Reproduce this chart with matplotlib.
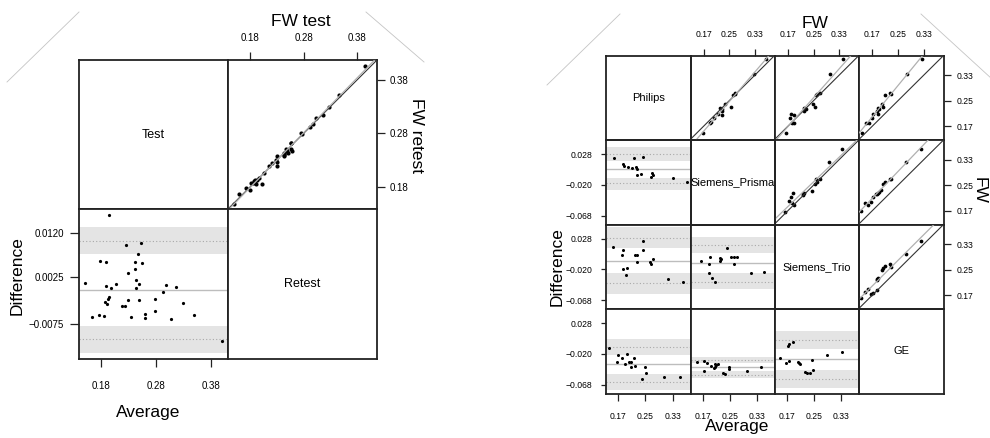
import numpy as np
import matplotlib
matplotlib.use('Agg')
import matplotlib.pyplot as plt
from matplotlib.lines import Line2D

plt.rcParams['font.family'] = ['Liberation Sans', 'DejaVu Sans']

W, H = 990, 438

# ---- left: test / retest (average and difference, diff = test - retest)
tr_avg = [0.1946, 0.1498, 0.2250, 0.2527, 0.2467, 0.1770, 0.1885, 0.2407, 0.2535, 0.2413,
          0.2285, 0.2431, 0.2480, 0.2437, 0.1885, 0.1970, 0.2062, 0.1935, 0.1916, 0.1873,
          0.1898, 0.2291, 0.2491, 0.2176, 0.2236, 0.2782, 0.2782, 0.2916, 0.2976, 0.3153,
          0.3285, 0.1636, 0.1764, 0.1855, 0.2345, 0.2589, 0.2589, 0.3062, 0.3491, 0.3995]
tr_diff = [0.0159, 0.0013, 0.0095, 0.0099, 0.0075, 0.0060, 0.0058, 0.0059, 0.0057, 0.0044,
           0.0035, 0.0020, 0.0010, 0.0003, 0.0007, 0.0002, 0.0012, -0.0016, -0.0021, -0.0027,
           -0.0031, -0.0023, -0.0024, -0.0036, -0.0036, -0.0021, -0.0046, -0.0006, 0.0008, 0.0004,
           -0.0030, -0.0059, -0.0056, -0.0058, -0.0060, -0.0054, -0.0061, -0.0064, -0.0056, -0.0111]
# mean, limits of agreement, lower band, upper band
tr_stats = [-0.0001, (-0.0107, 0.0104), (-0.0136, -0.0078), (0.0076, 0.0134)]
tr_labels = ['Test', 'Retest']
tr_ticks = [0.18, 0.28, 0.38]
tr_tick_labels = ['0.18', '0.28', '0.38']
tr_dticks = [0.0120, 0.0025, -0.0075]
tr_dtick_labels = ['0.0120', '0.0025', '\u22120.0075']

# ---- right: four scanners
scanners = ['Philips', 'Siemens_Prisma', 'Siemens_Trio', 'GE']

pp_avg = [0.1583, 0.2171, 0.2418, 0.1848, 0.1868, 0.1986, 0.2112, 0.2221, 0.2260, 0.2242,
          0.2368, 0.2654, 0.2683, 0.2712, 0.3300, 0.3721]
pp_diff = [0.0220, 0.0215, 0.0240, 0.0122, 0.0096, 0.0075, 0.0060, 0.0085, 0.0044, -0.0049,
           -0.0024, -0.0071, -0.0018, -0.0044, -0.0086, -0.0153]
pp_stats = [0.0054, (-0.0173, 0.0284), (-0.0282, -0.0091), (0.0173, 0.0387)]

pt_avg = [0.1554, 0.1848, 0.1818, 0.2427, 0.2436, 0.2183, 0.2241, 0.2241, 0.2633, 0.2654,
          0.2730, 0.1848, 0.1965, 0.1936, 0.3171, 0.3604]
pt_diff = [0.0155, 0.0099, 0.0021, 0.0239, 0.0108, 0.0021, 0.0026, -0.0078, -0.0088, -0.0110,
           -0.0041, -0.0197, -0.0181, -0.0290, -0.0347, -0.0394]
pt_stats = [-0.0063, (-0.0414, 0.0295), (-0.0581, -0.0259), (0.0130, 0.0457)]

st_avg = [0.1642, 0.1889, 0.1877, 0.2398, 0.2192, 0.2230, 0.2192, 0.2536, 0.2604, 0.2692,
          0.2624, 0.1868, 0.1956, 0.2054, 0.3112, 0.3506]
st_diff = [-0.0063, -0.0001, -0.0119, 0.0135, -0.0026, -0.0032, -0.0063, -0.0001, -0.0010, -0.0001,
           -0.0115, -0.0259, -0.0332, -0.0394, -0.0249, -0.0239]
st_stats = [-0.0103, (-0.0389, 0.0177), (-0.0508, -0.0259), (0.0052, 0.0301)]

pg_avg = [0.1427, 0.1654, 0.1701, 0.1818, 0.1965, 0.1906, 0.2024, 0.2074, 0.2171, 0.2074,
          0.2192, 0.2495, 0.2507, 0.2389, 0.3054, 0.3515]
pg_diff = [-0.0111, -0.0319, -0.0215, -0.0267, -0.0204, -0.0355, -0.0329, -0.0329, -0.0257, -0.0402,
           -0.0386, -0.0407, -0.0490, -0.0589, -0.0562, -0.0562]
pg_stats = [-0.0360, (-0.0630, -0.0086), (-0.0760, -0.0511), (-0.0215, 0.0034)]

sg_avg = [0.1515, 0.1721, 0.1818, 0.1927, 0.1712, 0.2036, 0.2065, 0.2154, 0.2095, 0.2024,
          0.2280, 0.2339, 0.2477, 0.2465, 0.2995, 0.3418]
sg_diff = [-0.0324, -0.0313, -0.0335, -0.0386, -0.0459, -0.0350, -0.0402, -0.0360, -0.0375, -0.0414,
           -0.0490, -0.0511, -0.0407, -0.0438, -0.0469, -0.0407]
sg_stats = [-0.0407, (-0.0522, -0.0293), (-0.0573, -0.0459), (-0.0344, -0.0242)]

tg_avg = [0.1486, 0.1645, 0.1733, 0.1703, 0.1751, 0.1859, 0.2015, 0.2065, 0.2030, 0.2427,
          0.2233, 0.2292, 0.2359, 0.2468, 0.2868, 0.3309]
tg_diff = [-0.0257, -0.0335, -0.0309, -0.0071, -0.0049, -0.0009, -0.0329, -0.0350, -0.0340, -0.0293,
           -0.0484, -0.0490, -0.0500, -0.0444, -0.0215, -0.0169]
tg_stats = [-0.0282, (-0.0589, 0.0018), (-0.0733, -0.0449), (-0.0122, 0.0158)]

fw_ticks = [0.17, 0.25, 0.33]
fw_tick_labels = ['0.17', '0.25', '0.33']
d_ticks = [0.028, -0.020, -0.068]
d_tick_labels = ['0.028', '\u22120.020', '\u22120.068']

# (row, col) of the Bland-Altman panel -> data; scatter sits at (col, row)
pairs = {(1, 0): (pp_avg, pp_diff, pp_stats),
         (2, 0): (pt_avg, pt_diff, pt_stats),
         (2, 1): (st_avg, st_diff, st_stats),
         (3, 0): (pg_avg, pg_diff, pg_stats),
         (3, 1): (sg_avg, sg_diff, sg_stats),
         (3, 2): (tg_avg, tg_diff, tg_stats)}

FRAME = '#222222'
BAND = '#e4e4e4'


def px_axes(fig, x0, y0, x1, y1):
    ax = fig.add_axes([x0 / W, 1 - y1 / H, (x1 - x0) / W, (y1 - y0) / H])
    for s in ax.spines.values():
        s.set_color(FRAME)
        s.set_linewidth(1.3)
    ax.set_xticks([])
    ax.set_yticks([])
    return ax


def draw_ba(ax, avg, diff, stats, xlim, ylim, ms):
    mean, loa, lo_band, hi_band = stats
    ax.axhspan(lo_band[0], lo_band[1], color=BAND, lw=0, zorder=0)
    ax.axhspan(hi_band[0], hi_band[1], color=BAND, lw=0, zorder=0)
    for v in loa:
        ax.axhline(v, color='#a8a8a8', lw=0.8, ls=(0, (1, 2)), zorder=1)
    ax.axhline(mean, color='#bdbdbd', lw=1.0, zorder=1)
    ax.plot(avg, diff, 'o', color='black', ms=ms, mew=0, zorder=3)
    ax.set_xlim(*xlim)
    ax.set_ylim(*ylim)


def draw_scatter(ax, avg, diff, xlim, ylim, ms):
    avg = np.array(avg)
    diff = np.array(diff)
    x = avg + diff / 2
    y = avg - diff / 2
    ax.plot(x, y, 'o', color='black', ms=ms, mew=0, zorder=2)
    lim = np.array([min(xlim[0], ylim[0]), max(xlim[1], ylim[1])])
    ax.plot(lim, lim, color='#333333', lw=0.8, zorder=3)
    k, b = np.polyfit(x, y, 1)
    ax.plot(lim, k * lim + b, color='#b0b0b0', lw=0.9, zorder=4)
    ax.set_xlim(*xlim)
    ax.set_ylim(*ylim)


fig = plt.figure(figsize=(W / 100, H / 100), dpi=100)

# ------------------------------------------------------------ left matrix
lx = [79, 227.7, 376.7]
ly = [60.3, 209.3, 358.7]
sc_lim = (0.1388, 0.4163)

ax = px_axes(fig, lx[0], ly[0], lx[1], ly[1])
ax.text(0.5, 0.5, tr_labels[0], ha='center', va='center', fontsize=9, transform=ax.transAxes)

ax = px_axes(fig, lx[1], ly[0], lx[2], ly[1])
draw_scatter(ax, tr_avg, tr_diff, sc_lim, sc_lim, 3.0)
ax.xaxis.set_ticks_position('top')
ax.yaxis.set_ticks_position('right')
ax.set_xticks(tr_ticks)
ax.set_xticklabels(tr_tick_labels)
ax.set_yticks(tr_ticks)
ax.set_yticklabels(tr_tick_labels)
ax.tick_params(axis='x', direction='out', length=6, width=0.9, color=FRAME, labelsize=7, pad=6.5)
ax.tick_params(axis='y', direction='out', length=6, width=0.9, color=FRAME, labelsize=7, pad=3.6)

ax = px_axes(fig, lx[0], ly[1], lx[1], ly[2])
draw_ba(ax, tr_avg, tr_diff, tr_stats, (0.1395, 0.41), (-0.0149, 0.0171), 2.3)
ax.set_xticks(tr_ticks)
ax.set_xticklabels(tr_tick_labels)
ax.set_yticks(tr_dticks)
ax.set_yticklabels(tr_dtick_labels)
ax.tick_params(axis='x', direction='out', length=6, width=0.9, color=FRAME, labelsize=7, pad=10)
ax.tick_params(axis='y', direction='out', length=6.5, width=0.9, color=FRAME, labelsize=7, pad=4.3)

ax = px_axes(fig, lx[1], ly[1], lx[2], ly[2])
ax.text(0.5, 0.5, tr_labels[1], ha='center', va='center', fontsize=9, transform=ax.transAxes)

fig.text(301 / W, 1 - 21 / H, 'FW test', ha='center', va='center', fontsize=12.5)
fig.text(416 / W, 1 - 135 / H, 'FW retest', ha='center', va='center', fontsize=12.5, rotation=270)
fig.text(17 / W, 1 - 276 / H, 'Difference', ha='center', va='center', fontsize=12.5, rotation=90)
fig.text(148 / W, 1 - 413 / H, 'Average', ha='center', va='center', fontsize=12.5)

# ------------------------------------------------------------ right matrix
rx = [605.7, 690.7, 775, 859.3, 944]
ry = [55.7, 140.2, 224.7, 309.2, 393.7]
sx_lim = (0.1297, 0.3925)
sy_lim = (0.1262, 0.3905)
ba_xlim = (0.133, 0.383)
ba_ylim = (-0.082, 0.0497)

for i in range(4):
    for j in range(4):
        ax = px_axes(fig, rx[j], ry[i], rx[j + 1], ry[i + 1])
        if i == j:
            ax.text(0.5, 0.5, scanners[i], ha='center', va='center', fontsize=8,
                    transform=ax.transAxes, clip_on=False)
            ax.set_zorder(5)
            ax.patch.set_alpha(0)
            continue
        if i > j:
            avg, diff, stats = pairs[(i, j)]
            draw_ba(ax, avg, diff, stats, ba_xlim, ba_ylim, 2.2)
            if i == 3:
                ax.set_xticks(fw_ticks)
                ax.set_xticklabels(fw_tick_labels)
                ax.tick_params(axis='x', direction='out', length=4.7, width=0.9, color=FRAME,
                               labelsize=6.2, pad=8.4)
            if j == 0:
                ax.set_yticks(d_ticks)
                ax.set_yticklabels(d_tick_labels)
                ax.tick_params(axis='y', direction='out', length=3.5, width=0.9, color=FRAME,
                               labelsize=6.2, pad=6.2)
        else:
            avg, diff, stats = pairs[(j, i)]
            draw_scatter(ax, avg, diff, sx_lim, sy_lim, 2.7)
            if i == 0:
                ax.xaxis.set_ticks_position('top')
                ax.set_xticks(fw_ticks)
                ax.set_xticklabels(fw_tick_labels)
                ax.tick_params(axis='x', direction='out', length=4.7, width=0.9, color=FRAME,
                               labelsize=6.2, pad=7)
            if j == 3:
                ax.yaxis.set_ticks_position('right')
                ax.set_yticks(fw_ticks)
                ax.set_yticklabels(fw_tick_labels)
                ax.tick_params(axis='y', direction='out', length=4.7, width=0.9, color=FRAME,
                               labelsize=6.2, pad=4.3)

fig.text(815 / W, 1 - 23 / H, 'FW', ha='center', va='center', fontsize=12.5)
fig.text(979 / W, 1 - 190 / H, 'FW', ha='center', va='center', fontsize=12.5, rotation=270)
fig.text(557 / W, 1 - 267 / H, 'Difference', ha='center', va='center', fontsize=12.5, rotation=90)
fig.text(737 / W, 1 - 427 / H, 'Average', ha='center', va='center', fontsize=12.5)

# faint corner strokes of the original page
for (x0, y0), (x1, y1) in [((7, 82), (79, 12)), ((366, 12), (424, 62)),
                           ((547, 85), (620, 14)), ((921, 14), (992, 79))]:
    fig.add_artist(Line2D([x0 / W, x1 / W], [1 - y0 / H, 1 - y1 / H],
                          color='#c4c4c4', lw=0.6, transform=fig.transFigure))

fig.savefig('out.png', dpi=100)
